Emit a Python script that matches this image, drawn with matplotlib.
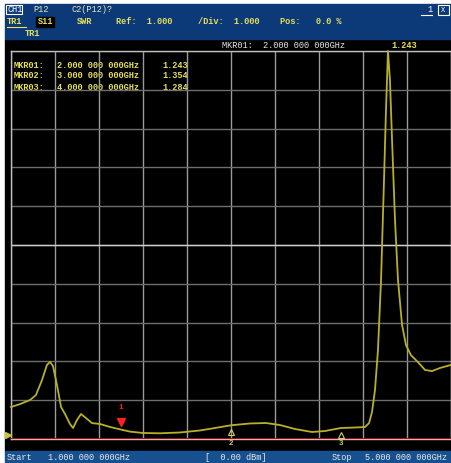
import matplotlib
matplotlib.use("Agg")
import matplotlib.pyplot as plt
from matplotlib.patches import Rectangle
import numpy as np

# ---------------- data ----------------
freq_ghz = [1.000, 1.082, 1.173, 1.227, 1.282, 1.327, 1.355, 1.382, 1.418, 1.455,
            1.491, 1.536, 1.564, 1.600, 1.636, 1.682, 1.736, 1.809, 1.900, 2.000,
            2.082, 2.200, 2.355, 2.536, 2.718, 2.855, 3.000, 3.173, 3.318, 3.445,
            3.582, 3.736, 3.855, 4.000, 4.127, 4.218, 4.255, 4.282, 4.309, 4.336,
            4.364, 4.391, 4.409, 4.427, 4.445, 4.464, 4.491, 4.518, 4.555, 4.591,
            4.636, 4.700, 4.764, 4.827, 4.900, 5.000]
swr = [1.825, 1.90, 2.005, 2.134, 2.52, 2.91, 2.985, 2.88, 2.39, 1.825,
       1.644, 1.387, 1.284, 1.49, 1.644, 1.54, 1.41, 1.387, 1.31, 1.243,
       1.19, 1.155, 1.147, 1.168, 1.22, 1.284, 1.354, 1.40, 1.412, 1.36,
       1.258, 1.18, 1.206, 1.284, 1.296, 1.309, 1.41, 1.696, 2.26, 3.29,
       5.10, 7.68, 9.48, 11.0, 10.25, 8.71, 6.64, 5.10, 3.94, 3.42,
       3.16, 2.98, 2.78, 2.75, 2.83, 2.91]

mkr_names = ["MKR01:", "MKR02:", "MKR03:"]
mkr_freq = [2.0, 3.0, 4.0]
mkr_freq_text = ["2.000 000 000GHz", "3.000 000 000GHz", "4.000 000 000GHz"]
mkr_val = [1.243, 1.354, 1.284]

start_ghz, stop_ghz = 1.0, 5.0
ref_val, per_div = 1.0, 1.0
n_div = 10

# ---------------- figure ----------------
W, H = 452, 463
fig = plt.figure(figsize=(W / 100, H / 100), dpi=100)
fig.patch.set_facecolor("white")

# overlay axes in pixel coordinates (y downward)
ov = fig.add_axes([0, 0, 1, 1])
ov.set_xlim(0, W)
ov.set_ylim(H, 0)
ov.axis("off")

mono = "Liberation Mono"
yel = "#e6e05a"
pale = "#e8e4b8"
fs = 6.2
bw = "bold"

# black screen
ov.add_patch(Rectangle((5, 39), W - 5, 412, color="black", zorder=0))
# header
ov.add_patch(Rectangle((5, 4), W - 5, 35, color="#0c3a78", zorder=1))
# bottom bar
ov.add_patch(Rectangle((5, 451), W - 5, 12, color="#17508f", zorder=1))

# header texts
ov.add_patch(Rectangle((6.5, 5), 16, 9, facecolor="none", edgecolor="white", lw=0.8, zorder=3))
ov.text(7.5, 9.5, "CH1", color="white", fontsize=fs, family=mono, va="center", zorder=4)
ov.text(33, 9.5, "P12", color=pale, fontsize=fs, family=mono, va="center", zorder=4)
ov.text(72, 9.5, "C2(P12)?", color=pale, fontsize=fs, family=mono, va="center", zorder=4)
ov.text(7, 21.5, "TR1", color=yel, fontsize=fs, family=mono, va="center", fontweight=bw, zorder=4)
ov.plot([7, 26], [27, 27], color=yel, lw=0.8, zorder=4)
ov.add_patch(Rectangle((36, 16.5), 18, 10, color="black", zorder=3))
ov.text(38, 21.5, "S11", color=yel, fontsize=fs, family=mono, va="center", fontweight=bw, zorder=4)
ov.text(77, 21.5, "SWR", color=yel, fontsize=fs, family=mono, va="center", fontweight=bw, zorder=4)
ov.text(116, 21.5, "Ref:  %.3f" % ref_val, color=yel, fontsize=fs, family=mono, va="center",
        fontweight=bw, zorder=4)
ov.text(198, 21.5, "/Div:  %.3f" % per_div, color=yel, fontsize=fs, family=mono, va="center",
        fontweight=bw, zorder=4)
ov.text(280, 21.5, "Pos:   0.0 %", color=yel, fontsize=fs, family=mono, va="center",
        fontweight=bw, zorder=4)
ov.text(25, 33, "TR1", color=yel, fontsize=fs, family=mono, va="center", fontweight=bw, zorder=4)
# window buttons
ov.plot([421, 432], [15, 15], color="white", lw=0.8, zorder=4)
ov.text(427, 10, "1", color="white", fontsize=fs, family=mono, va="center", zorder=4)
ov.add_patch(Rectangle((438, 5), 11, 10, facecolor="none", edgecolor="white", lw=0.8, zorder=4))
ov.text(443.5, 10, "X", color="white", fontsize=5, family=mono, va="center", ha="center", zorder=4)

# active marker readout
ov.text(222, 45, "MKR01:  " + mkr_freq_text[0], color="#e8e8e8", fontsize=fs, family=mono,
        va="center", zorder=4)
ov.text(417, 45, "%.3f" % mkr_val[0], color=yel, fontsize=fs, family=mono, va="center",
        ha="right", fontweight=bw, zorder=4)

# marker table
for i, (nm, ft, v) in enumerate(zip(mkr_names, mkr_freq_text, mkr_val)):
    yy = 65 + i * 11
    ov.text(14, yy, nm, color=yel, fontsize=fs, family=mono, va="center", fontweight=bw, zorder=4)
    ov.text(57, yy, ft, color=yel, fontsize=fs, family=mono, va="center", fontweight=bw, zorder=4)
    ov.text(188, yy, "%.3f" % v, color=yel, fontsize=fs, family=mono, va="center",
            ha="right", fontweight=bw, zorder=4)

# bottom bar texts
ov.text(7, 457, "Start", color="#e8e8e8", fontsize=fs, family=mono, va="center", zorder=4)
ov.text(48, 457, "%.3f 000 000GHz" % start_ghz, color="#e8e8e8", fontsize=fs, family=mono,
        va="center", zorder=4)
ov.text(205, 457, "[  0.00 dBm]", color="#e8e8e8", fontsize=fs, family=mono, va="center", zorder=4)
ov.text(332, 457, "Stop", color="#e8e8e8", fontsize=fs, family=mono, va="center", zorder=4)
ov.text(447, 457, "%.3f 000 000GHz" % stop_ghz, color="#e8e8e8", fontsize=fs, family=mono,
        va="center", ha="right", zorder=4)

# ---------------- data axes ----------------
left, right, top, bottom = 11, 451, 51, 439
ax = fig.add_axes([left / W, 1 - bottom / H, (right - left) / W, (bottom - top) / H])
ax.set_facecolor("none")
ax.set_xlim(start_ghz, stop_ghz)
ymin = ref_val
ymax = ref_val + n_div * per_div
ax.set_ylim(ymin, ymax)
ax.set_xticks(np.linspace(start_ghz, stop_ghz, n_div + 1))
ax.set_yticks(np.linspace(ymin, ymax, n_div + 1))
ax.tick_params(length=0, labelbottom=False, labelleft=False)
ax.grid(True, axis="x", color="#9a9a9a", lw=1.0)
ax.grid(True, axis="y", color="#6e6e6e", lw=1.0)
ax.axhline((ymin + ymax) / 2, color="#cfcfcf", lw=1.0)
for s in ax.spines.values():
    s.set_color("#c0c0c0")
    s.set_linewidth(1.0)

# red reference line
ax.axhline(ref_val, color="#c80000", lw=1.3, zorder=3)
ax.plot([start_ghz - 0.03], [ref_val + 0.1], marker=">", color="#c8c040", ms=4, clip_on=False, zorder=4)

# trace
ax.plot(freq_ghz, swr, color="#b8b028", lw=1.3, zorder=5, clip_on=False)

# markers
ax.annotate("1", xy=(mkr_freq[0], mkr_val[0] + 0.05), xytext=(0, 12), textcoords="offset points",
            ha="center", va="bottom", color="#ff2020", fontsize=5.5, family=mono,
            fontweight=bw, zorder=6)
ax.plot([mkr_freq[0]], [mkr_val[0] + 0.2], marker="v", color="#ff2020", ms=6, zorder=6)
for k in (1, 2):
    ax.plot([mkr_freq[k]], [mkr_val[k] - 0.17], marker="^", mfc="none", mec="#d8d060", ms=4.5,
            mew=0.8, zorder=6)
    ax.text(mkr_freq[k], ref_val - 0.02, str(k + 1), color="#d8d060", fontsize=5.5, family=mono,
            ha="center", va="top", fontweight=bw, zorder=6)

fig.savefig("out.png", dpi=100, facecolor=fig.get_facecolor())
